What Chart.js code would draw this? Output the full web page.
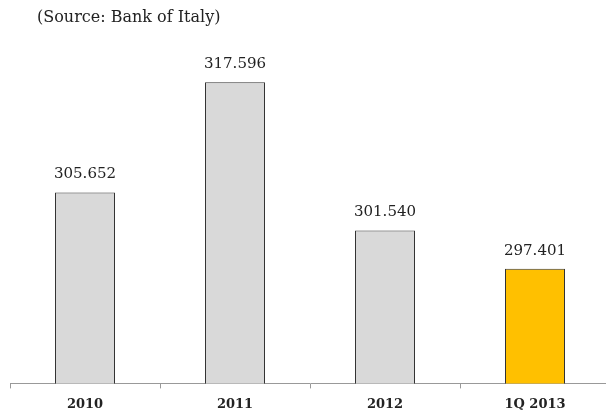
<!DOCTYPE html>
<html>
<head>
<meta charset="utf-8">
<script src="https://cdn.jsdelivr.net/npm/chart.js@4/dist/chart.umd.min.js"></script>
<style>
    html, body { margin: 0; padding: 0; background: #fff; overflow: hidden; }
    #wrap { position: relative; width: 610px; height: 415px; }
    #source {
        position: absolute; left: 37px; top: 7px;
        font-family: "DejaVu Serif", serif; font-size: 16px; color: #222;
    }
</style>
</head>
<body>
<div id="wrap">
    <div id="source">(Source: Bank of Italy)</div>
    <canvas id="stockChart" width="610" height="415"></canvas>
</div>
<script>
const categories = ['2010', '2011', '2012', '1Q 2013'];
const values = [305.652, 317.596, 301.540, 297.401];
const barColors = ['#d9d9d9', '#d9d9d9', '#d9d9d9', '#ffc000'];

// Valori sopra le barre
const valueLabels = {
    id: 'valueLabels',
    afterDatasetsDraw(chart) {
        const ctx = chart.ctx;
        const meta = chart.getDatasetMeta(0);
        ctx.save();
        ctx.font = '15px "DejaVu Serif", serif';
        ctx.fillStyle = '#222';
        ctx.textAlign = 'center';
        ctx.textBaseline = 'middle';
        meta.data.forEach((bar, i) => {
            ctx.fillText(values[i].toFixed(3), bar.x, bar.y - 18);
        });
        ctx.restore();
    }
};

new Chart(document.getElementById('stockChart'), {
    type: 'bar',
    data: {
        labels: categories,
        datasets: [{
            data: values,
            backgroundColor: barColors,
            borderColor: '#333',
            borderWidth: 1,
            borderSkipped: 'bottom',
            barPercentage: 0.4,
            categoryPercentage: 1
        }]
    },
    options: {
        responsive: false,
        animation: false,
        layout: { padding: { left: 10, right: 0, top: 60, bottom: -5 } },
        plugins: { legend: { display: false }, tooltip: { enabled: false } },
        scales: {
            x: {
                grid: { drawOnChartArea: false, drawTicks: true, tickLength: 5, color: '#999', offset: true },
                border: { display: true, color: '#999' },
                ticks: {
                    padding: 8,
                    color: '#222',
                    font: { family: '"DejaVu Serif", serif', size: 13, weight: 'bold' }
                }
            },
            y: { display: false, min: 285, max: 320 }
        }
    },
    plugins: [valueLabels]
});
</script>
</body>
</html>
